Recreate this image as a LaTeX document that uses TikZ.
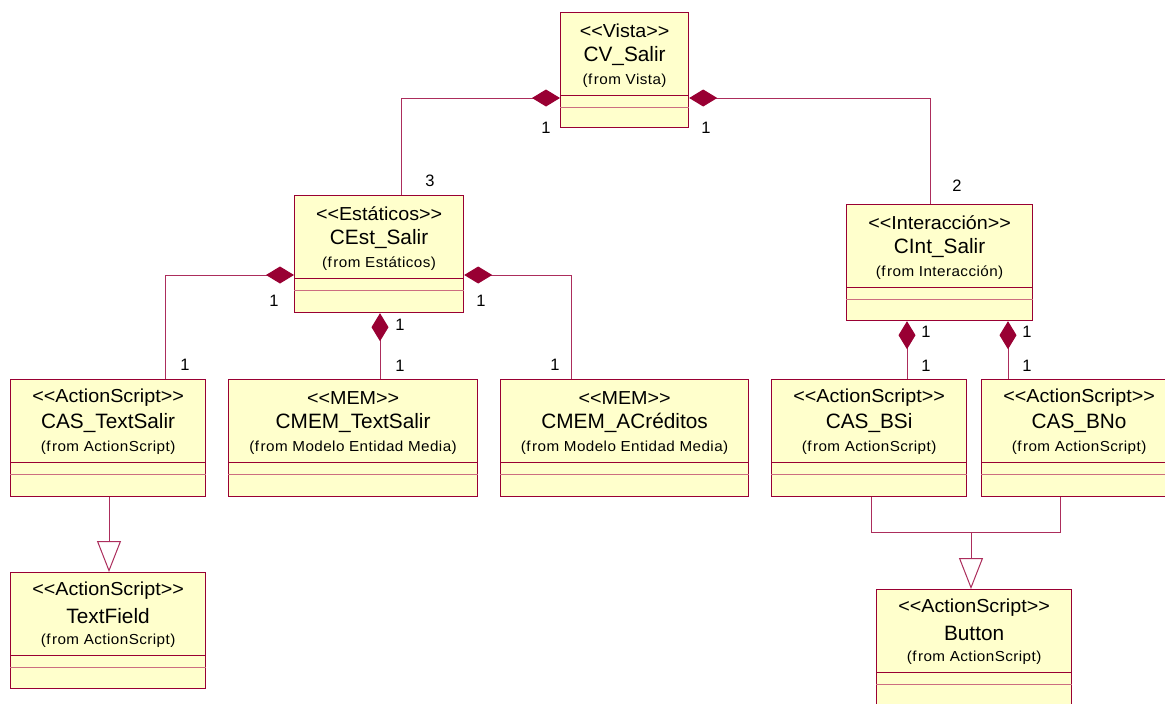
\documentclass[tikz,border=0pt]{standalone}
\usepackage{fontspec}
\setmainfont{Liberation Sans}[Ligatures=TeXOff]
\newfontfamily\stereofont{Liberation Sans}[Ligatures=TeXOff, FakeStretch=1.05]
\newfontfamily\pkgfont{Liberation Sans}[Ligatures=TeXOff, FakeStretch=1.05, LetterSpace=3]
\usetikzlibrary{arrows.meta}

\definecolor{boxfill}{RGB}{255,255,204}
\definecolor{boxline}{RGB}{153,0,51}
\definecolor{linkline}{RGB}{172,45,92}
\definecolor{sepline}{RGB}{204,110,128}

\tikzset{
  classbox/.style={draw=boxline, fill=boxfill, line width=1.2pt, inner sep=0pt},
  stereo/.style={font=\stereofont\fontsize{18.8}{21}\selectfont, inner sep=0pt},
  cname/.style={font=\fontsize{20.8}{23}\selectfont, inner sep=0pt},
  cfrom/.style={font=\pkgfont\fontsize{14.5}{16}\selectfont, inner sep=0pt},
  mult/.style={font=\fontsize{16.5}{18}\selectfont, inner sep=0pt},
  link/.style={draw=linkline, line width=1pt},
  comp/.style={link, {Diamond[length=28pt,width=17pt,color=boxline,fill=boxline]}-},
  gen/.style={link, -{Triangle[open,length=31pt,width=24pt,color=linkline,fill=white]}},
}

% class symbol: id, left, top, width, height, stereotype, name, package
\newcommand{\umlclass}[8]{%
  \node[classbox, minimum width=#4pt, minimum height=#5pt, anchor=north west] (#1) at (#2,#3) {};
  \draw[draw=boxline, line width=1pt] ([yshift=-83pt]#1.north west) -- ([yshift=-83pt]#1.north east);
  \draw[draw=sepline, line width=1pt] ([yshift=-95pt]#1.north west) -- ([yshift=-95pt]#1.north east);
  \node[stereo] (#1-st) at ([yshift=-19pt]#1.north) {<<#6>>};
  \node[cname] (#1-nm) at ([yshift=-44pt]#1.north) {#7};
  \node[cfrom] (#1-pk) at ([yshift=-69pt]#1.north) {(f\kern1.5pt rom #8)};
}

\begin{document}
\begin{tikzpicture}[x=1pt, y=-1pt]
\clip (0,0) rectangle (1165,704);
\useasboundingbox (0,0) rectangle (1165,704);
\fill[white] (0,0) rectangle (1165,704);

% classes
\umlclass{cv}{560}{12}{128}{115}{Vista}{CV\_Salir}{Vista}
\umlclass{cest}{294}{195}{169}{117}{Estáticos}{CEst\_Salir}{Estáticos}
\umlclass{cint}{846}{204}{186}{116}{Interacción}{CInt\_Salir}{Interacción}
\umlclass{castext}{10}{379}{195}{117}{ActionScript}{CAS\_TextSalir}{ActionScript}
\umlclass{cmemtext}{228}{379}{249}{117}{MEM}{CMEM\_TextSalir}{Modelo Entidad Media}
\umlclass{cmemacr}{500}{379}{248}{117}{MEM}{CMEM\_ACréditos}{Modelo Entidad Media}
\umlclass{casbsi}{771}{379}{195}{117}{ActionScript}{CAS\_BSi}{ActionScript}
\umlclass{casbno}{981}{379}{195}{117}{ActionScript}{CAS\_BNo}{ActionScript}
\umlclass{textfield}{10}{572}{195}{116}{ActionScript}{TextField}{ActionScript}
\umlclass{button}{876}{589}{195}{116}{ActionScript}{Button}{ActionScript}

% routing points
\coordinate (j1) at (401,98);
\coordinate (j2) at (930,98);
\coordinate (j3) at (165,275);
\coordinate (j4) at (380,350);
\coordinate (j5) at (571,275);
\coordinate (j6) at (907,350);
\coordinate (j7) at (1008,350);
\coordinate (j8) at (109,530);
\coordinate (ga) at (871,532);
\coordinate (gb) at (1060,532);
\coordinate (gm) at (971,532);

% compositions
\draw[comp] (cv.west |- j1) -- (j1) -- (cest.north -| j1);
\draw[comp] (cv.east |- j2) -- (j2) -- (cint.north -| j2);
\draw[comp] (cest.west |- j3) -- (j3) -- (castext.north -| j3);
\draw[comp] (cest.south -| j4) -- (cmemtext.north -| j4);
\draw[comp] (cest.east |- j5) -- (j5) -- (cmemacr.north -| j5);
\draw[comp] (cint.south -| j6) -- (casbsi.north -| j6);
\draw[comp] (cint.south -| j7) -- (casbno.north -| j7);

% generalizations
\draw[gen] (castext.south -| j8) -- (textfield.north -| j8);
\draw[link] (casbsi.south -| ga) -- (ga) -- (gb) -- (casbno.south -| gb);
\draw[gen] (gm) -- (button.north -| gm);

% multiplicities
\node[mult] (m1) at (546,128) {1};
\node[mult] (m2) at (706,128) {1};
\node[mult] (m3) at (430,181) {3};
\node[mult] (m4) at (957,186) {2};
\node[mult] (m5) at (274,301) {1};
\node[mult] (m6) at (481,301) {1};
\node[mult] (m7) at (400,325) {1};
\node[mult] (m8) at (400,366) {1};
\node[mult] (m9) at (185,365) {1};
\node[mult] (m10) at (555,365) {1};
\node[mult] (m11) at (926,332) {1};
\node[mult] (m12) at (1027,332) {1};
\node[mult] (m13) at (926,366) {1};
\node[mult] (m14) at (1027,366) {1};
\end{tikzpicture}
\end{document}
